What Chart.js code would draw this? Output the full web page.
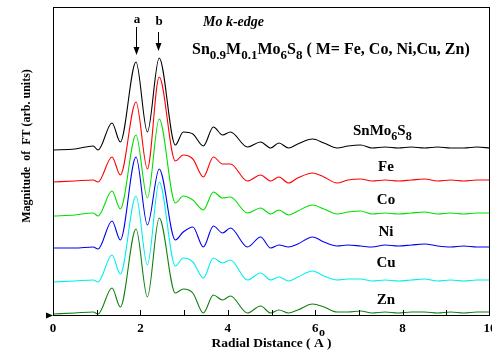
<!DOCTYPE html>
<html>
<head>
<meta charset="utf-8">
<script src="https://cdn.jsdelivr.net/npm/chart.js@4.4.0/dist/chart.umd.min.js"></script>
<style>
  html, body { margin: 0; padding: 0; background: #fff; }
  #ft { display: block; }
</style>
</head>
<body>
<canvas id="ft" width="492" height="354"></canvas>
<script>
// radial distance grid (Å)
const radialDistance = [0, 0.5, 0.92, 1.03, 1.35, 1.54, 1.9, 2.16, 2.43, 2.8, 2.98, 3.2, 3.44, 3.67, 3.88, 4.06, 4.45, 4.75,
    4.98, 5.17, 5.39, 5.6, 5.94, 6.2, 6.5, 6.75, 7.04, 7.3, 7.6, 7.9, 8.2, 8.5, 8.8, 9.1, 9.4, 9.7, 10];

// |FT| (arb. units), curves already stacked with vertical offsets as in the figure
const snMo6S8 = [1.65, 1.66, 1.69, 1.65, 1.92, 1.73, 2.53, 1.83, 2.57, 1.70, 1.83, 1.81, 1.69, 1.88, 1.80, 1.83, 1.68, 1.73,
    1.67, 1.72, 1.67, 1.71, 1.76, 1.72, 1.67, 1.69, 1.70, 1.67, 1.68, 1.67, 1.68, 1.67, 1.68, 1.67, 1.67, 1.68, 1.67];
const fe = [1.33, 1.34, 1.35, 1.33, 1.58, 1.40, 2.13, 1.46, 2.38, 1.54, 1.60, 1.56, 1.38, 1.58, 1.51, 1.51, 1.34, 1.40,
    1.34, 1.38, 1.32, 1.37, 1.42, 1.38, 1.32, 1.35, 1.36, 1.34, 1.35, 1.34, 1.35, 1.36, 1.34, 1.35, 1.34, 1.35, 1.35];
const co = [0.99, 1.00, 1.02, 0.99, 1.24, 1.06, 1.80, 1.17, 1.96, 1.12, 1.19, 1.15, 1.05, 1.23, 1.17, 1.18, 1.02, 1.07,
    1.01, 1.05, 1.00, 1.04, 1.10, 1.06, 1.01, 1.03, 1.04, 1.01, 1.02, 1.01, 1.02, 1.03, 1.01, 1.02, 1.01, 1.02, 1.02];
const ni = [0.67, 0.67, 0.68, 0.66, 0.94, 0.75, 1.58, 0.90, 1.46, 0.75, 0.83, 0.88, 0.68, 0.89, 0.82, 0.87, 0.68, 0.78,
    0.67, 0.70, 0.68, 0.71, 0.78, 0.73, 0.69, 0.70, 0.69, 0.68, 0.70, 0.69, 0.70, 0.71, 0.69, 0.68, 0.69, 0.68, 0.68];
const cu = [0.33, 0.34, 0.35, 0.33, 0.60, 0.41, 1.19, 0.50, 1.33, 0.49, 0.57, 0.53, 0.37, 0.57, 0.52, 0.55, 0.35, 0.42,
    0.35, 0.38, 0.34, 0.38, 0.44, 0.39, 0.35, 0.36, 0.36, 0.34, 0.35, 0.34, 0.35, 0.36, 0.34, 0.35, 0.34, 0.35, 0.35];
const zn = [0.01, 0.02, 0.03, 0.01, 0.27, 0.08, 0.86, 0.18, 0.97, 0.22, 0.26, 0.22, 0.02, 0.20, 0.15, 0.19, 0.02, 0.09,
    0.02, 0.05, 0.02, 0.05, 0.11, 0.08, 0.03, 0.03, 0.04, 0.02, 0.03, 0.02, 0.03, 0.03, 0.02, 0.03, 0.02, 0.03, 0.03];

const seriesNames = ['SnMo6S8', 'Fe', 'Co', 'Ni', 'Cu', 'Zn'];
const seriesValues = [snMo6S8, fe, co, ni, cu, zn];
const seriesColors = ['#000000', '#ff0000', '#00e000', '#0000ee', '#00eeee', '#108010'];
const xTicks = [0, 2, 4, 6, 8, 10];

const FONT = '"Liberation Serif", "Times New Roman", serif';

const decor = {
    id: 'decor',
    afterDraw(chart) {
        const { ctx, chartArea: a, scales: { x } } = chart;
        ctx.save();
        ctx.fillStyle = '#000';
        const L = Math.round(a.left), R = Math.round(a.right) - 1;
        const T = Math.round(a.top), B = Math.round(a.bottom);
        // frame as solid 1px rects
        ctx.fillRect(L, T, R - L + 1, 1);
        ctx.fillRect(L, B, R - L + 1, 1);
        ctx.fillRect(L, T, 1, B - T + 1);
        ctx.fillRect(R, T, 1, B - T + 1);
        // inward ticks on bottom axis
        for (let v = 0; v <= 10; v++) {
            const px = Math.min(Math.round(x.getPixelForValue(v)), R);
            ctx.fillRect(px, B - 5, 1, 5);
        }
        // small marker at origin
        ctx.beginPath();
        ctx.moveTo(46, B - 2.5);
        ctx.lineTo(53, B + 0.5);
        ctx.lineTo(46, B + 3.5);
        ctx.closePath();
        ctx.fill();

        // y title
        ctx.save();
        ctx.translate(27, 146);
        ctx.rotate(-Math.PI / 2);
        ctx.font = 'bold 12px ' + FONT;
        ctx.textAlign = 'center';
        ctx.textBaseline = 'middle';
        ctx.fillText('Magnitude  of  FT (arb. units)', 0, 0);
        ctx.restore();

        // angstrom ring
        ctx.font = 'bold 12px ' + FONT;
        ctx.textAlign = 'center';
        ctx.textBaseline = 'middle';
        ctx.fillText('o', 322, 333);

        // peak markers a, b
        ctx.font = 'bold 13px ' + FONT;
        ctx.fillText('a', 137, 20);
        ctx.fillText('b', 159, 22);
        ctx.strokeStyle = '#000';
        ctx.lineWidth = 1;
        const arrow = (px, y0, y1) => {
            ctx.beginPath();
            ctx.moveTo(px, y0);
            ctx.lineTo(px, y1 - 6);
            ctx.stroke();
            ctx.beginPath();
            ctx.moveTo(px - 3, y1 - 8);
            ctx.lineTo(px + 3, y1 - 8);
            ctx.lineTo(px, y1);
            ctx.closePath();
            ctx.fill();
        };
        arrow(136.5, 27, 55);
        arrow(158.5, 32, 51);

        // edge label
        ctx.font = 'bold italic 14px ' + FONT;
        ctx.textAlign = 'left';
        ctx.textBaseline = 'alphabetic';
        ctx.fillText('Mo k-edge', 203, 26);

        // formula with subscripts
        const drawParts = (parts, x0, base, big, small) => {
            let cx = x0;
            parts.forEach(([t, sub]) => {
                ctx.font = 'bold ' + (sub ? small : big) + 'px ' + FONT;
                ctx.fillText(t, cx, sub ? base + 5 : base);
                cx += ctx.measureText(t).width;
            });
        };
        drawParts([['Sn', 0], ['0.9', 1], ['M', 0], ['0.1', 1], ['Mo', 0], ['6', 1], ['S', 0], ['8', 1],
            [' ( M= Fe, Co, Ni,Cu, Zn)', 0]], 192, 54, 16, 13);

        // series labels
        drawParts([['SnMo', 0], ['6', 1], ['S', 0], ['8', 1]], 353, 135, 15, 12);
        ctx.font = 'bold 15px ' + FONT;
        ctx.textAlign = 'center';
        ctx.textBaseline = 'middle';
        const labelY = [167, 200, 232, 263, 300];
        seriesNames.slice(1).forEach((n, i) => ctx.fillText(n, 386, labelY[i]));
        ctx.restore();
    }
};

new Chart(document.getElementById('ft').getContext('2d'), {
    type: 'line',
    data: {
        datasets: seriesNames.map((name, i) => ({
            label: name,
            data: radialDistance.map((r, j) => ({ x: r, y: seriesValues[i][j] })),
            borderColor: seriesColors[i],
            borderWidth: 1.1,
            pointRadius: 0,
            fill: false,
            cubicInterpolationMode: 'monotone'
        }))
    },
    options: {
        responsive: false,
        animation: false,
        devicePixelRatio: 1,
        layout: { padding: { top: 7, right: 2, left: 53, bottom: 0 } },
        plugins: { legend: { display: false }, tooltip: { enabled: false } },
        scales: {
            x: {
                type: 'linear',
                min: 0,
                max: 10,
                afterFit: (s) => { s.height = 39; s.paddingLeft = 0; s.paddingRight = 0; },
                grid: { display: false, drawTicks: false },
                border: { display: false },
                afterBuildTicks: (s) => { s.ticks = xTicks.map(v => ({ value: v })); },
                ticks: {
                    padding: 6,
                    color: '#000',
                    font: { family: FONT, size: 13, weight: 'bold' },
                    maxRotation: 0,
                    autoSkip: false
                },
                title: {
                    display: true,
                    text: 'Radial Distance ( A )',
                    color: '#000',
                    font: { family: FONT, size: 13.5, weight: 'bold' },
                    padding: { top: 0, bottom: 2 }
                }
            },
            y: {
                display: false,
                min: 0,
                max: 3.08
            }
        }
    },
    plugins: [decor]
});
</script>
</body>
</html>
